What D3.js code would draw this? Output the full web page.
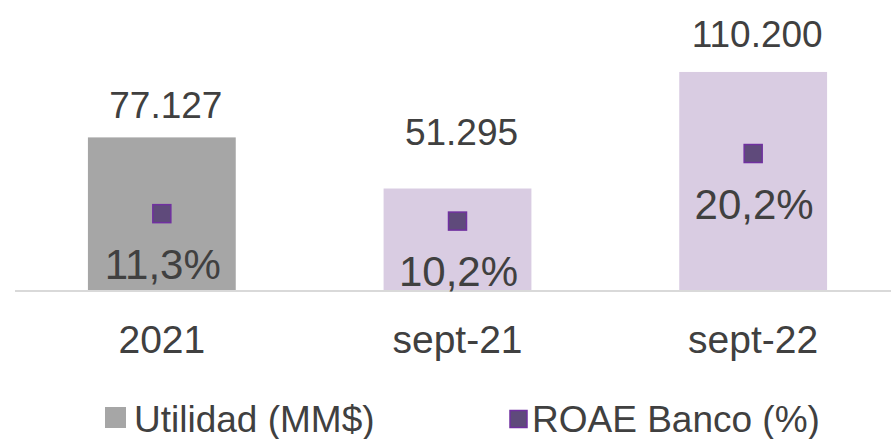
<!DOCTYPE html>
<html>
<head>
<meta charset="utf-8">
<script src="https://cdn.jsdelivr.net/npm/d3@7"></script>
<style>
  html, body { margin: 0; padding: 0; background: #fff; }
  svg { display: block; }
  text { font-family: "Liberation Sans", Arial, sans-serif; fill: #404040; }
</style>
</head>
<body>
<svg id="chart" width="891" height="439"></svg>
<script>
// ---- data ----
const categories = ["2021", "sept-21", "sept-22"];
const utilidad = [77127, 51295, 110200];          // MM$
const roae = [0.113, 0.102, 0.202];               // ROAE Banco (%)
const utilidadLabels = ["77.127", "51.295", "110.200"];
const roaeLabels = ["11,3%", "10,2%", "20,2%"];
const seriesNames = ["Utilidad (MM$)", "ROAE Banco (%)"];

// ---- layout / style (not data) ----
const W = 891, H = 439;
const barColors = ["#a6a6a6", "#d9cce2", "#d9cce2"];
const markerFill = "#5f4a7b", markerStroke = "#7030a0";
const valueLabelDy = [19, 44, 25];   // gap between bar top and value label baseline

const svg = d3.select("#chart");

const x = d3.scaleBand().domain(categories).range([14, 901]).paddingInner(0.5).paddingOuter(0.25);
const y = d3.scaleLinear().domain([0, 140000]).range([290, 13]);
const y2 = d3.scaleLinear().domain([0, 0.41]).range([290, 13]);

// bars
svg.selectAll("rect.bar").data(utilidad).join("rect")
  .attr("class", "bar")
  .attr("x", (d, i) => x(categories[i]))
  .attr("width", x.bandwidth())
  .attr("y", d => y(d))
  .attr("height", d => y(0) - y(d))
  .attr("fill", (d, i) => barColors[i]);

// category axis line
svg.append("line")
  .attr("x1", 15).attr("x2", W)
  .attr("y1", y(0) + 1).attr("y2", y(0) + 1)
  .attr("stroke", "#d9d9d9").attr("stroke-width", 2);

// value labels above bars
svg.selectAll("text.val").data(utilidad).join("text")
  .attr("class", "val")
  .attr("x", (d, i) => x(categories[i]) + x.bandwidth() / 2 + 4)
  .attr("y", (d, i) => y(d) - valueLabelDy[i])
  .attr("text-anchor", "middle")
  .style("font-size", "37px")
  .text((d, i) => utilidadLabels[i]);

// ROAE markers
const ms = 18;
svg.selectAll("rect.mk").data(roae).join("rect")
  .attr("class", "mk")
  .attr("x", (d, i) => x(categories[i]) + x.bandwidth() / 2 - ms / 2)
  .attr("y", d => y2(d) - ms / 2)
  .attr("width", ms).attr("height", ms)
  .attr("fill", markerFill)
  .attr("stroke", markerStroke).attr("stroke-width", 1.5);

// ROAE labels
svg.selectAll("text.pct").data(roae).join("text")
  .attr("class", "pct")
  .attr("x", (d, i) => x(categories[i]) + x.bandwidth() / 2 + 1)
  .attr("y", d => y2(d) + 65)
  .attr("text-anchor", "middle")
  .style("font-size", "42px")
  .text((d, i) => roaeLabels[i]);

// category labels
svg.selectAll("text.cat").data(categories).join("text")
  .attr("class", "cat")
  .attr("x", d => x(d) + x.bandwidth() / 2)
  .attr("y", 353)
  .attr("text-anchor", "middle")
  .style("font-size", "39px")
  .text(d => d);

// legend
const leg = svg.append("g");
leg.append("rect").attr("x", 105).attr("y", 407).attr("width", 21).attr("height", 21).attr("fill", barColors[0]);
leg.append("text").attr("x", 134).attr("y", 432).style("font-size", "37px").text(seriesNames[0]);
leg.append("rect").attr("x", 510).attr("y", 410.5).attr("width", 17).attr("height", 17)
  .attr("fill", markerFill).attr("stroke", markerStroke).attr("stroke-width", 1.5);
leg.append("text").attr("x", 532).attr("y", 432).style("font-size", "37px").text(seriesNames[1]);
</script>
</body>
</html>
